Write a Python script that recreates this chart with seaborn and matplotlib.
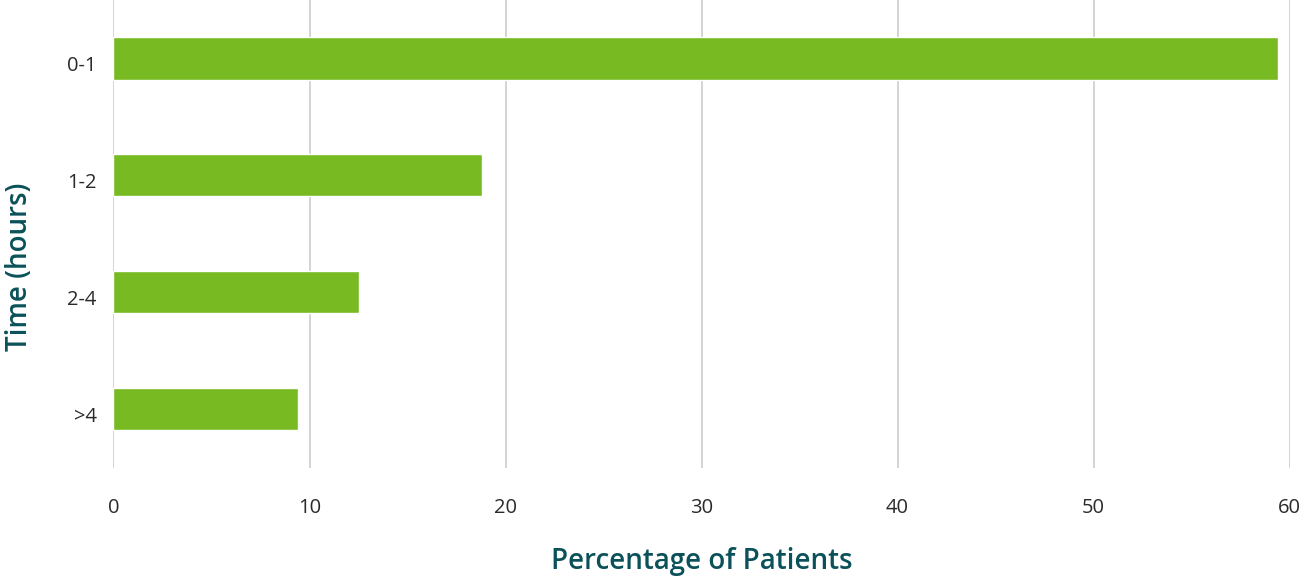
import matplotlib
matplotlib.use('Agg')
import matplotlib.pyplot as plt
import matplotlib.transforms as mtransforms
import pandas as pd
import seaborn as sns

# -----------------------------------------------------------------------
# Data
time_bins = ['0-1', '1-2', '2-4', '>4']
pct_patients = [59.4, 18.8, 12.5, 9.4]
x_ticks = [0, 10, 20, 30, 40, 50, 60]

bar_color = '#78BA22'
title_color = '#0B5159'

df = pd.DataFrame({'Time': time_bins, 'Pct': pct_patients})

# -----------------------------------------------------------------------
sns.set_theme(style='white')
plt.rcParams['font.family'] = ['Open Sans', 'DejaVu Sans']

fig = plt.figure(figsize=(13, 5.84), dpi=100)
ax = fig.add_axes([0.0873, 0.199, 0.9047, 0.801])

sns.barplot(data=df, x='Pct', y='Time', orient='h', color=bar_color,
            saturation=1, width=0.36, ax=ax, zorder=3)

ax.set_xlim(0, 60)
ax.set_xticks(x_ticks)
ax.grid(axis='x', color='#c9c9c9', linewidth=1.1, zorder=0)
ax.grid(axis='y', visible=False)
for s in ax.spines.values():
    s.set_visible(False)
ax.axvline(0, color='#d6d6d6', linewidth=1.1, zorder=1)

ax.tick_params(axis='x', length=0, pad=22, labelsize=14.5, labelcolor='#2a2a2a')
ax.tick_params(axis='y', length=0, pad=12, labelsize=14.5, labelcolor='#2a2a2a')

# the category labels sit a few pixels below the bar centres in the reference
shift = mtransforms.ScaledTranslation(0, -0.05, fig.dpi_scale_trans)
for lab in ax.get_yticklabels():
    lab.set_transform(lab.get_transform() + shift)

ax.set_xlabel('Percentage of Patients', fontsize=20, fontweight='semibold',
              color=title_color)
ax.set_ylabel('Time (hours)', fontsize=20, fontweight='semibold',
              color=title_color)
# place axis titles where the reference has them
ax.xaxis.label.set_verticalalignment('center')
ax.xaxis.set_label_coords(0.5, -0.2)
ax.yaxis.label.set_verticalalignment('center')
ax.yaxis.set_label_coords(-0.080, 0.43)

fig.savefig('out.png', dpi=100)
